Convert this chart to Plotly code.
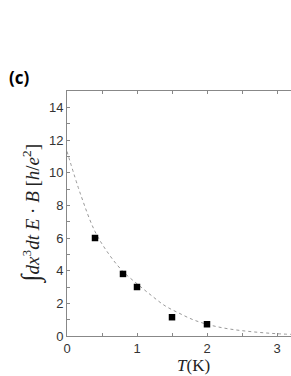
import plotly.graph_objects as go

# measured data points
T_pts = [0.4, 0.8, 1.0, 1.5, 2.0]
V_pts = [6.0, 3.8, 3.0, 1.15, 0.72]

# dotted guide curve
T_fit = [0.0, 0.2, 0.4, 0.6, 0.8, 1.0, 1.2, 1.4, 1.6, 1.8, 2.0, 2.2, 2.4, 2.6, 2.8, 3.0, 3.2]
V_fit = [11.3, 8.6, 6.4, 5.0, 3.95, 3.2, 2.5, 1.85, 1.4, 1.0, 0.72, 0.52, 0.38, 0.28, 0.2, 0.14, 0.1]

x_tickvals = [0, 1, 2, 3]
y_tickvals = [0, 2, 4, 6, 8, 10, 12, 14]

fig = go.Figure()
fig.add_trace(go.Scatter(x=T_fit, y=V_fit, mode="lines", line=dict(color="#999", width=1, dash="dot", shape="spline"),
                         showlegend=False, hoverinfo="skip"))
fig.add_trace(go.Scatter(x=T_pts, y=V_pts, mode="markers",
                         marker=dict(symbol="square", size=6.5, color="black"), showlegend=False))

axis_common = dict(showline=True, linecolor="#888", linewidth=1, ticks="inside", tickcolor="#888",
                   ticklen=3, showgrid=False, zeroline=False, automargin=False,
                   tickfont=dict(family="Liberation Sans, Arial", size=13, color="#333"))
fig.update_xaxes(range=[0, 3.2], tickvals=x_tickvals, mirror="ticks",
                 minor=dict(dtick=0.5, ticks="inside", ticklen=3, tickcolor="#888"),
                 **axis_common)
fig.update_yaxes(range=[0, 15], tickvals=y_tickvals,
                 minor=dict(dtick=1, ticks="inside", ticklen=3, tickcolor="#888"),
                 **axis_common)

fig.add_annotation(text="<b>(c)</b>", xref="paper", yref="paper", x=-0.27, y=1.0, xanchor="left", yanchor="bottom",
                   showarrow=False, font=dict(family="Open Sans, Liberation Sans", size=17, color="black"))
fig.add_annotation(text="<i>T</i>(K)", xref="x", yref="paper", x=1.8, y=-0.075, xanchor="center", yanchor="top",
                   showarrow=False, font=dict(family="Liberation Serif, Times New Roman", size=17, color="#222"))
fig.add_annotation(text="<span style='font-size:26px'>∫</span><i>dx</i><sup>3</sup><i>dt E</i> · <i>B</i> [<i>h</i>/<i>e</i><sup>2</sup>]",
                   xref="paper", yref="paper", x=-0.165, y=0.5, xanchor="center", yanchor="middle", textangle=-90,
                   showarrow=False, font=dict(family="Liberation Serif, Times New Roman", size=19, color="#222"))

fig.update_layout(width=291, height=376, margin=dict(l=67, r=0, t=91, b=40),
                  plot_bgcolor="white", paper_bgcolor="white")
fig.write_html("out.html", config={"displayModeBar": False},
               post_script="document.body.style.margin='0';document.body.style.overflow='hidden';")
